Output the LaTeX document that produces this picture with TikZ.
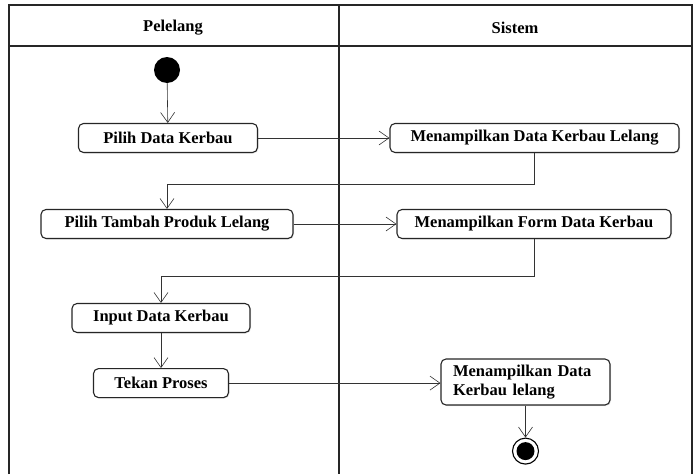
\documentclass[tikz,border=0pt]{standalone}
\usepackage{fontspec}
\setmainfont{Liberation Serif}
\usetikzlibrary{arrows.meta,positioning,shadows}

\tikzstyle{lane} = [
    draw=black!85,
    line width=1.2pt
]
\tikzstyle{lanetitle} = [
    font=\bfseries\fontsize{16.5}{19}\selectfont
]
\tikzstyle{action} = [
    rectangle,
    rounded corners=5pt,
    draw=black!85,
    line width=1.1pt,
    fill=white,
    minimum height=29pt,
    inner xsep=8pt,
    inner ysep=2pt,
    align=center,
    font=\bfseries\fontsize{16.5}{19}\selectfont,
    drop shadow={shadow xshift=1pt, shadow yshift=-1pt, fill=black!20}
]
\tikzstyle{flow} = [
    -{Straight Barb[length=10pt,width=14pt]},
    draw=black!80,
    line width=0.6pt
]

\begin{document}
\begin{tikzpicture}[x=1pt, y=-1pt]
        \useasboundingbox (0,0) rectangle (695,474);

        % Swimlanes
        \draw[lane] (9,474) -- (9,5) -- (692,5) -- (692,474);
        \draw[lane] (9,46) -- (692,46);
        \draw[lane] (339,5) -- (339,474);
        \node[lanetitle] (pelelang) at (173,28) {Pelelang};
        \node[lanetitle] (sistem) at (515,28) {Sistem};

        % Start
        \node[circle, fill=black, minimum size=26pt, inner sep=0pt] (start) at (167,70) {};

        % Pelelang actions
        \node[action, minimum width=179pt] (pilih) at (168,138) {Pilih Data Kerbau};
        \node[action, minimum width=252pt] (tambah) at (167,224) {Pilih Tambah Produk Lelang};
        \node[action, minimum width=178pt] (input) at (161,318) {Input Data Kerbau};
        \node[action, minimum width=135pt, below=35pt of input] (tekan) {Tekan Proses};

        % Sistem actions
        \node[action, minimum width=289pt] (tampil) at (534.5,138) {Menampilkan Data Kerbau Lelang};
        \node[action, minimum width=274pt] (form) at (534,224) {Menampilkan Form Data Kerbau};
        \node[action, text width=145pt, inner xsep=12pt, minimum height=46pt, align=left,
              font=\bfseries\fontsize{16.5}{19}\selectfont] (hasil) at (525.5,382)
              {Menampilkan Data\\Kerbau lelang};

        % End
        \node[circle, draw=black, line width=1.1pt, minimum size=26pt, inner sep=0pt,
              below=32pt of hasil] (end) {};
        \fill[black] (end.center) circle (9pt);

        % Flows
        \draw[flow] (start) -- (pilih);
        \draw[flow] (pilih) -- (tampil);
        \draw[flow] (tampil.south) -- ++(0,31) -| (tambah.north);
        \draw[flow] (tambah) -- (form);
        \draw[flow] (form.south) -- ++(0,37) -| (input.north);
        \draw[flow] (input) -- (tekan);
        \draw[flow] (tekan) -- (tekan -| hasil.west);
        \draw[flow] (hasil) -- (end);
    \end{tikzpicture}
\end{document}
